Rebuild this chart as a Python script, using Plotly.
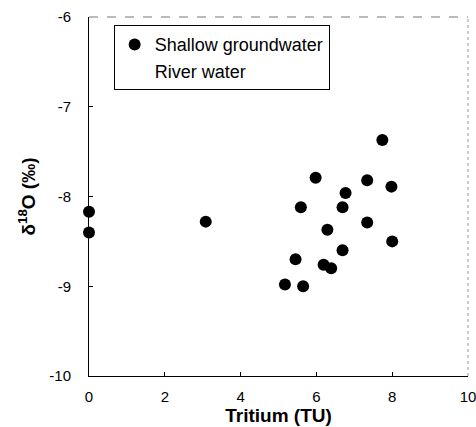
import plotly.graph_objects as go

# Shallow groundwater samples: tritium (TU) vs delta 18O (permil)
tritium = [0.0, 0.0, 3.08, 5.17, 5.45, 5.59, 5.65, 5.98, 6.19, 6.29, 6.39,
           6.69, 6.69, 6.77, 7.34, 7.34, 7.74, 7.98, 8.0]
d18o = [-8.17, -8.40, -8.28, -8.98, -8.70, -8.12, -9.00, -7.79, -8.76, -8.37, -8.80,
        -8.12, -8.60, -7.96, -7.82, -8.29, -7.37, -7.89, -8.50]

# River water: no points shown in the chart
river_x = [None]
river_y = [None]

x_ticks = [0, 2, 4, 6, 8, 10]
y_ticks = [-10, -9, -8, -7, -6]

fig = go.Figure()
fig.add_trace(go.Scatter(
    x=tritium, y=d18o, mode="markers", name="Shallow groundwater",
    marker=dict(color="black", size=12, line=dict(width=0)),
    cliponaxis=False,
))
fig.add_trace(go.Scatter(
    x=river_x, y=river_y, mode="markers", name="River water",
    marker=dict(color="rgba(0,0,0,0)", size=12),
    showlegend=True,
))

font_main = "Liberation Sans, Arial, sans-serif"

fig.update_layout(
    width=476, height=427,
    margin=dict(l=89, r=8, t=17, b=51, autoexpand=False),
    paper_bgcolor="white", plot_bgcolor="white",
    font=dict(family=font_main, color="black", size=15),
    showlegend=True,
    legend=dict(
        x=0.065, y=0.977, xanchor="left", yanchor="top",
        bordercolor="black", borderwidth=1, bgcolor="white",
        font=dict(size=18, family=font_main),
        itemwidth=30, tracegroupgap=0,
    ),
    xaxis=dict(
        range=[0, 10], tickvals=x_ticks, ticktext=[str(v) for v in x_ticks],
        showgrid=False, zeroline=False, showline=True, linecolor="black", linewidth=1,
        ticks="inside", ticklen=4, tickcolor="black",
        ticklabelstandoff=7, ticklabeloverflow="allow", automargin=False,
        title=dict(text="<b>Tritium (TU)</b>", font=dict(size=19), standoff=0),
    ),
    yaxis=dict(
        range=[-10, -6], tickvals=y_ticks, ticktext=[str(v) for v in y_ticks],
        showgrid=False, zeroline=False, showline=True, linecolor="black", linewidth=1,
        ticks="inside", ticklen=4, tickcolor="black",
        ticklabelstandoff=14, automargin=False,
        title=dict(text="<b>δ<sup>18</sup>O (‰)</b>", font=dict(size=19), standoff=8),
    ),
    shapes=[
        dict(type="line", xref="paper", yref="paper", x0=0, x1=1, y0=1, y1=1,
             line=dict(color="#777777", width=1, dash="dash")),
        dict(type="line", xref="paper", yref="paper", x0=1, x1=1, y0=0, y1=1,
             line=dict(color="#999999", width=1, dash="dot")),
    ],
)

fig.write_html("out.html")
